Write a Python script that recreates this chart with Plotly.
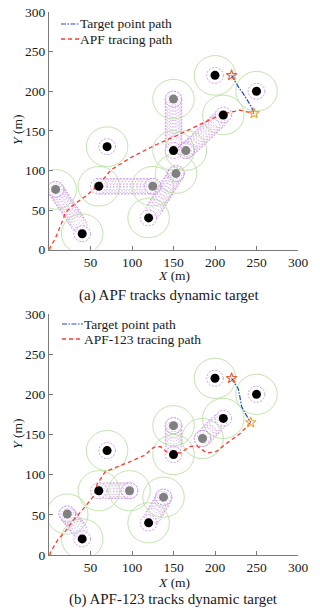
import plotly.graph_objects as go

# ---------------- data: panel (a) APF ----------------
a_black_x = [200, 250, 210, 150, 70, 60, 120, 40]
a_black_y = [220, 200, 170, 125, 130, 80, 40, 20]
a_grey_x = [150, 165, 153, 125, 8]
a_grey_y = [190, 125, 96, 80, 76]

a_trail1_x = [36, 34, 32, 30, 28, 26, 24, 22, 20, 18, 16, 14, 12, 10, 8]
a_trail1_y = [32, 35, 38, 41, 45, 48, 51, 54, 57, 60, 63, 66, 70, 73, 76]
a_trail2_x = [64, 68, 72, 76, 80, 84, 88, 92, 96, 100, 104, 108, 112, 116, 120, 125]
a_trail2_y = [80] * 16
a_trail3_x = [126, 128, 130, 132, 134, 136, 138, 140, 142, 144, 146, 148, 150, 152, 153]
a_trail3_y = [50, 53, 57, 60, 64, 67, 70, 74, 77, 81, 84, 87, 91, 94, 96]
a_trail4_x = [205, 202, 199, 196, 193, 190, 187, 184, 181, 178, 175, 172, 169, 167, 165]
a_trail4_y = [164, 161, 158, 155, 152, 149, 146, 143, 140, 137, 134, 131, 129, 127, 125]
a_trail5_x = [150] * 15
a_trail5_y = [133, 137, 141, 145, 149, 153, 157, 161, 165, 169, 173, 177, 181, 185, 190]

a_target_x = [220, 224, 229, 234, 239, 244, 247]
a_target_y = [220, 212, 204, 197, 189, 180, 172]
a_path_x = [0, 8, 15, 20, 30, 45, 60, 75, 100, 128, 156, 184, 208, 230, 247]
a_path_y = [0, 15, 33, 47, 57, 68, 82, 101, 117, 132, 145, 159, 171, 176, 172]

# ---------------- data: panel (b) APF-123 ----------------
b_black_x = [200, 250, 210, 150, 70, 60, 120, 40]
b_black_y = [220, 200, 170, 125, 130, 80, 40, 20]
b_grey_x = [150, 185, 138, 97, 22]
b_grey_y = [161, 145, 72, 80, 51]

b_trail1_x = [36, 34, 32, 30, 28, 26, 24, 22]
b_trail1_y = [32, 35, 37, 40, 43, 46, 48, 51]
b_trail2_x = [68, 72, 76, 80, 84, 88, 92, 97]
b_trail2_y = [80] * 8
b_trail3_x = [125, 127, 129, 131, 133, 135, 137, 138]
b_trail3_y = [48, 51, 55, 58, 62, 65, 69, 72]
b_trail4_x = [150] * 7
b_trail4_y = [136, 140, 144, 148, 152, 156, 161]
b_trail5_x = [204, 201, 198, 195, 192, 189, 185]
b_trail5_y = [165, 162, 159, 156, 152, 149, 145]

b_target_x = [220, 224, 228, 230, 232, 236, 240, 243]
b_target_y = [220, 214, 207, 197, 185, 177, 170, 165]
b_path_x = [0, 10, 20, 30, 45, 55, 58, 68, 95, 115, 126, 134, 142, 158, 170, 178, 190, 202, 214, 230, 243]
b_path_y = [0, 18, 30, 44, 62, 75, 88, 104, 115, 124, 134, 135, 128, 127, 135, 136, 127, 129, 139, 151, 165]

tick_vals = [0, 50, 100, 150, 200, 250, 300]
x_tick_vals = [50, 100, 150, 200, 250, 300]

# ---------------- styles ----------------
R_GREEN = 25
R_PURPLE = 10
GREEN = "#b2dd9a"
PURPLE = "#c084dc"
RED = "#ff3b2b"
BLUE = "#2446d6"
FONT = "Liberation Serif, Times New Roman, Tinos, DejaVu Serif, serif"
W, H = 320, 612

fig = go.Figure()
shapes = []


def circ(cx, cy, r, color, dash, xr, yr, width=0.8):
    shapes.append(dict(type="circle", xref=xr, yref=yr, x0=cx - r, x1=cx + r,
                       y0=cy - r, y1=cy + r, layer="below",
                       line=dict(color=color, width=width, dash=dash)))


def panel(xr, yr, blx, bly, grx, gry, trails, tx, ty, px, py):
    axn = "" if xr == "x" else "2"
    for trx, tr_y in trails:
        for cx, cy in zip(trx, tr_y):
            circ(cx, cy, R_PURPLE, PURPLE, "1.5px,1.5px", xr, yr, 0.6)
    for cx, cy in list(zip(blx, bly)) + list(zip(grx, gry)):
        circ(cx, cy, R_GREEN, GREEN, "solid", xr, yr, 0.8)
        circ(cx, cy, R_PURPLE, PURPLE, "2px,1.5px", xr, yr, 0.8)
    fig.add_trace(go.Scatter(x=tx, y=ty, mode="lines", xaxis="x" + axn, yaxis="y" + axn,
                             line=dict(color=BLUE, width=1.2, dash="5px,1.5px,1.5px,1.5px"),
                             showlegend=False, hoverinfo="skip"))
    fig.add_trace(go.Scatter(x=px, y=py, mode="lines", xaxis="x" + axn, yaxis="y" + axn,
                             line=dict(color=RED, width=1.3, dash="4px,3px"),
                             showlegend=False, hoverinfo="skip"))
    fig.add_trace(go.Scatter(x=blx, y=bly, mode="markers", xaxis="x" + axn, yaxis="y" + axn,
                             marker=dict(color="black", size=9), showlegend=False))
    fig.add_trace(go.Scatter(x=grx, y=gry, mode="markers", xaxis="x" + axn, yaxis="y" + axn,
                             marker=dict(color="#808080", size=9), showlegend=False))
    fig.add_trace(go.Scatter(x=[tx[0]], y=[ty[0]], mode="markers", xaxis="x" + axn, yaxis="y" + axn,
                             marker=dict(symbol="star-open", color="#e4643c", size=8,
                                         line=dict(width=1.1)), showlegend=False))
    fig.add_trace(go.Scatter(x=[tx[-1]], y=[ty[-1]], mode="markers", xaxis="x" + axn, yaxis="y" + axn,
                             marker=dict(symbol="star-open", color="#f0a53a", size=8,
                                         line=dict(width=1.1)), showlegend=False))
    fig.add_trace(go.Scatter(x=[px[0]], y=[py[0]], mode="markers", xaxis="x" + axn, yaxis="y" + axn,
                             marker=dict(symbol="square", color="#f08a24", size=4), showlegend=False))


panel("x", "y", a_black_x, a_black_y, a_grey_x, a_grey_y,
      [(a_trail1_x, a_trail1_y), (a_trail2_x, a_trail2_y), (a_trail3_x, a_trail3_y),
       (a_trail4_x, a_trail4_y), (a_trail5_x, a_trail5_y)],
      a_target_x, a_target_y, a_path_x, a_path_y)
panel("x2", "y2", b_black_x, b_black_y, b_grey_x, b_grey_y,
      [(b_trail1_x, b_trail1_y), (b_trail2_x, b_trail2_y), (b_trail3_x, b_trail3_y),
       (b_trail4_x, b_trail4_y), (b_trail5_x, b_trail5_y)],
      b_target_x, b_target_y, b_path_x, b_path_y)


def px2x(p):
    return p / W


def px2y(p):
    return 1 - p / H


annotations = []


def text(t, xp, yp, size=13, xanchor="left", angle=0):
    annotations.append(dict(text=t, x=px2x(xp), y=px2y(yp), xref="paper", yref="paper",
                            showarrow=False, xanchor=xanchor, yanchor="middle", textangle=angle,
                            borderpad=0, borderwidth=0,
                            font=dict(family=FONT, size=size, color="#1a1a1a")))


def legend(y1, y2, x0, x1, xt, label2):
    shapes.append(dict(type="line", xref="paper", yref="paper", x0=px2x(x0), x1=px2x(x1),
                       y0=px2y(y1), y1=px2y(y1),
                       line=dict(color=BLUE, width=1.2, dash="5px,1.5px,1.5px,1.5px")))
    shapes.append(dict(type="line", xref="paper", yref="paper", x0=px2x(x0), x1=px2x(x1),
                       y0=px2y(y2), y1=px2y(y2), line=dict(color=RED, width=1.3, dash="4px,3px")))
    text("Target point path", xt, y1, 13.5)
    text(label2, xt, y2, 13.5)


legend(24, 39, 61, 79, 80, "APF tracing path")
legend(324, 339, 62, 83, 84, "APF-123 tracing path")

text("<i>Y</i> (m)", 17, 130, 13.5, "center", -90)
text("<i>X</i> (m)", 173.5, 275, 13.5, "center")
text("(a) APF tracks dynamic target", 169, 295, 15, "center")
text("<i>Y</i> (m)", 17, 434, 13.5, "center", -90)
text("<i>X</i> (m)", 173.5, 582, 13.5, "center")
text("(b) APF-123 tracks dynamic target", 173.5, 599, 15, "center")

xdom = [49 / W, 298 / W]
ax_common = dict(range=[0, 300], showgrid=False, zeroline=False, showline=True,
                 linecolor="#7a7a7a", linewidth=1, ticks="inside", ticklen=4,
                 tickcolor="#7a7a7a", tickfont=dict(family=FONT, size=13.5, color="#1a1a1a"),
                 mirror=False, fixedrange=True, automargin=False)

fig.update_layout(
    width=W, height=H, margin=dict(l=0, r=0, t=0, b=0, autoexpand=False),
    font=dict(family=FONT),
    paper_bgcolor="white", plot_bgcolor="white", showlegend=False,
    xaxis=dict(domain=xdom, anchor="y", tickvals=x_tick_vals, **ax_common),
    yaxis=dict(domain=[px2y(249.6), px2y(12)], anchor="x", tickvals=tick_vals, **ax_common),
    xaxis2=dict(domain=xdom, anchor="y2", tickvals=x_tick_vals, **ax_common),
    yaxis2=dict(domain=[px2y(555), px2y(314)], anchor="x2", tickvals=tick_vals, **ax_common),
    shapes=shapes, annotations=annotations,
)

fig.write_html("out.html", config={"displayModeBar": False},
               post_script="document.body.style.margin='0px';document.body.style.overflow='hidden';")
